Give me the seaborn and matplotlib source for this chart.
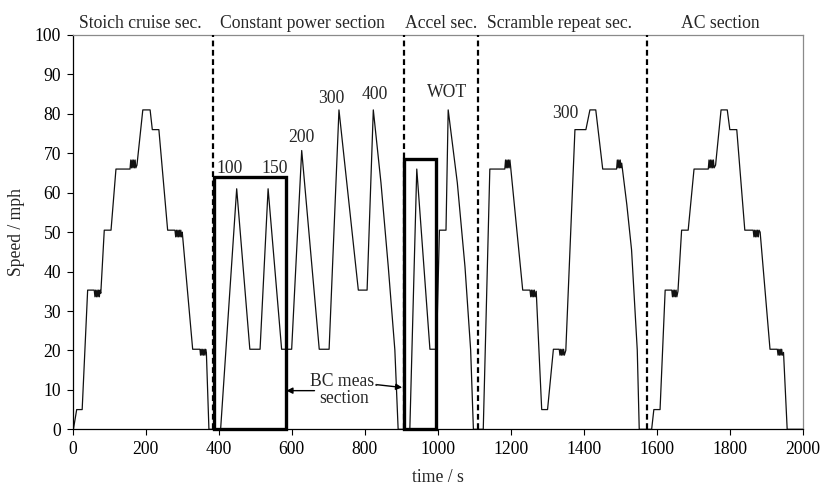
import matplotlib
matplotlib.use("Agg")
import matplotlib.pyplot as plt
import matplotlib.patches as patches
import seaborn as sns
import pandas as pd

# Speed trace, (time / s, speed / mph) per test section
stoich_cruise = [
    (0, 0), (2, 0), (11, 5), (26, 5), (41, 35.3), (59, 35.3),
    (61, 33.6), (63, 35.3), (65, 33.6), (67, 35.3), (69, 33.6), (71, 35.3), (73, 33.6), (75, 35.3), (77, 34.5),
    (86.5, 50.5), (105, 50.5), (118.5, 66), (157, 66),
    (159, 68.3), (161, 66.3), (163, 68.3), (165, 66.3), (167, 68.3), (169, 66.3), (171, 68.3), (173, 66.3), (176, 67),
    (192, 81), (212, 81), (218, 76), (236, 76), (260, 50.5), (280, 50.5),
    (282, 48.8), (284, 50.5), (286, 48.8), (288, 50.5), (290, 48.8), (292, 50.5), (294, 48.8), (296, 50.5), (298, 48.8), (300, 50),
    (328.5, 20.3), (348.5, 20.3),
    (350, 18.8), (352, 20.3), (354, 18.8), (356, 20.3), (358, 18.8), (360, 20.3), (362, 18.8), (364, 20.3), (366, 19.5),
    (373, 0),
]
constant_power = [
    (405, 0), (449, 61), (485, 20.3), (513, 20.3), (535, 61), (572, 20.3), (599.5, 20.3),
    (627, 70.7), (675, 20.3), (702, 20.3), (729, 81), (782, 35.3), (806, 35.3),
    (823, 81), (844, 62.5), (864, 41.2), (882, 20.1), (891, 0),
]
accel = [
    (923, 0), (942, 66), (978, 20.3), (996, 20.3), (1004, 50.5), (1022, 50.5),
    (1028, 81), (1053, 62.5), (1074, 41.2), (1089.5, 20.1), (1097, 0),
]
scramble_repeat = [
    (1124, 0), (1142, 66), (1183, 66),
    (1185, 68.3), (1187, 66.3), (1189, 68.3), (1191, 66.3), (1193, 68.3), (1195, 66.3), (1197, 68.3), (1199, 66.5),
    (1232, 35.3), (1252, 35.3),
    (1254, 33.6), (1256, 35.3), (1258, 33.6), (1260, 35.3), (1262, 33.6), (1264, 35.3), (1266, 33.6), (1269, 35),
    (1284, 5), (1300, 5), (1316, 20.3), (1332, 20.3),
    (1334, 18.8), (1336, 20.3), (1338, 18.8), (1340, 20.3), (1342, 18.8), (1344, 20.3), (1346, 18.8), (1350, 20),
    (1375, 76), (1405, 76), (1416, 81), (1432, 81), (1451, 66), (1489, 66),
    (1491, 68.3), (1493, 66.3), (1495, 68.3), (1497, 66.3), (1499, 68.3), (1501, 66.3), (1503, 67.5),
    (1517, 57), (1530, 45.5), (1545.6, 20.1), (1551, 0), (1585, 0),
]
ac_section = [
    (1591, 5), (1608, 5), (1622, 35.3), (1640, 35.3),
    (1642, 33.6), (1644, 35.3), (1646, 33.6), (1648, 35.3), (1650, 33.6), (1652, 35.3), (1654, 33.6), (1657, 35),
    (1667, 50.5), (1685, 50.5), (1701, 66), (1740, 66),
    (1742, 68.3), (1744, 66.3), (1746, 68.3), (1748, 66.3), (1750, 68.3), (1752, 66.3), (1754, 68.3), (1756, 66.3), (1760, 67),
    (1775, 81), (1792, 81), (1799, 76), (1818, 76), (1840, 50.5), (1863, 50.5),
    (1865, 48.8), (1867, 50.5), (1869, 48.8), (1871, 50.5), (1873, 48.8), (1875, 50.5), (1877, 48.8), (1879, 50.5), (1882, 50),
    (1909, 20.3), (1929, 20.3),
    (1931, 18.8), (1933, 20.3), (1935, 18.8), (1937, 20.3), (1939, 18.8), (1941, 20.3), (1943, 18.8), (1946, 19.5),
    (1956, 0), (2000, 0),
]

section_names = ["Stoich cruise sec.", "Constant power section", "Accel sec.",
                 "Scramble repeat sec.", "AC section"]
section_label_t = [184, 630, 1008, 1333, 1772]
section_bounds = [384, 906, 1109, 1573]

peak_labels = ["100", "150", "200", "300", "400", "WOT", "300"]
peak_label_t = [429, 554, 626, 707, 826, 1026, 1349]
peak_label_v = [65.1, 65.0, 72.9, 82.7, 83.7, 84.3, 78.9]

bc_box_start = [388, 906]
bc_box_end = [583, 995]
bc_box_top = [64.0, 68.6]

trace = pd.DataFrame(stoich_cruise + constant_power + accel + scramble_repeat + ac_section,
                     columns=["time", "speed"])

sns.set_style("ticks")
plt.rcParams["font.family"] = ["Liberation Serif", "DejaVu Serif"]
fs = 12.7

fig = plt.figure(figsize=(8.23, 4.88), dpi=100)
ax = fig.add_axes([0.0883, 0.1203, 0.8877, 0.808])

sns.lineplot(data=trace, x="time", y="speed", ax=ax, estimator=None, sort=False,
             color="#111111", linewidth=0.9)

for t in section_bounds:
    ax.axvline(t, color="black", linewidth=1.6, linestyle=(0, (2.6, 1.6)), zorder=3)

for t0, t1, top in zip(bc_box_start, bc_box_end, bc_box_top):
    ax.add_patch(patches.Rectangle((t0, 0), t1 - t0, top, fill=False,
                                   edgecolor="black", linewidth=2.4, zorder=4, clip_on=False))

for name, t in zip(section_names, section_label_t):
    ax.text(t, 1.018, name, transform=ax.get_xaxis_transform(), ha="center", va="baseline",
            fontsize=fs)

for lab, t, v in zip(peak_labels, peak_label_t, peak_label_v):
    ax.text(t, v, lab, ha="center", va="baseline", fontsize=fs)

ax.text(743, 6.6, "BC meas.\nsection", ha="center", va="baseline", fontsize=fs,
        linespacing=1.0)
ax.annotate("", xy=(bc_box_end[0] + 2, 9.8), xytext=(662, 9.8),
            arrowprops=dict(arrowstyle="-|>", color="black", lw=1.0, mutation_scale=9,
                            shrinkA=0, shrinkB=0))
ax.annotate("", xy=(bc_box_start[1] - 4, 10.6), xytext=(834, 11.3),
            arrowprops=dict(arrowstyle="-|>", color="black", lw=1.0, mutation_scale=9,
                            shrinkA=0, shrinkB=0))

ax.set_xlim(0, 2000)
ax.set_ylim(0, 100)
ax.set_xticks(range(0, 2001, 200))
ax.set_yticks(range(0, 101, 10))
ax.set_xlabel("time / s", fontsize=fs, labelpad=8)
ax.set_ylabel("Speed / mph", fontsize=fs, labelpad=7)
ax.tick_params(direction="out", length=4.3, width=0.8, colors="black", labelsize=fs, pad=4)

for side in ["left", "bottom"]:
    ax.spines[side].set_color("black")
    ax.spines[side].set_linewidth(0.9)
for side in ["top", "right"]:
    ax.spines[side].set_visible(True)
    ax.spines[side].set_color("#8a8a8a")
    ax.spines[side].set_linewidth(0.9)

fig.savefig("out.png", dpi=100)
